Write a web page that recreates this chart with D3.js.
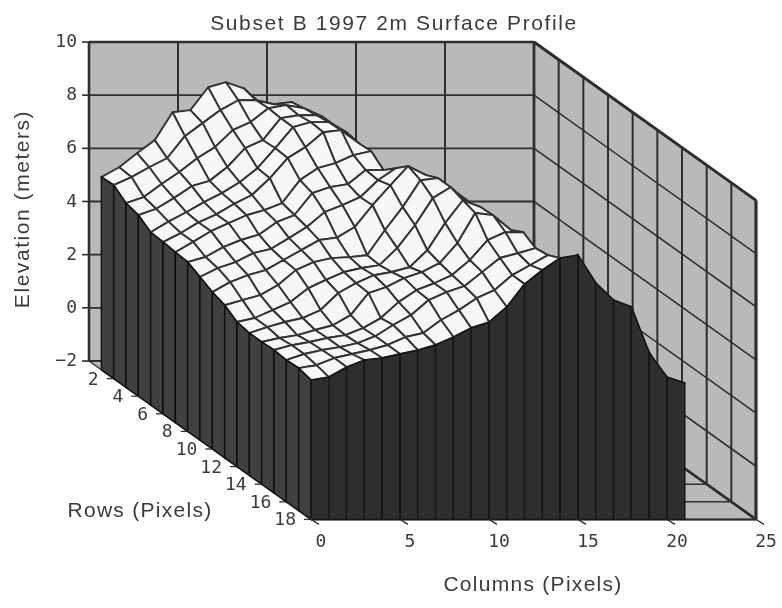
<!DOCTYPE html>
<html>
<head>
<meta charset="utf-8">
<script src="https://cdn.jsdelivr.net/npm/d3@7/dist/d3.min.js"></script>
<style>
  body { margin: 0; background: #fff; }
  text { fill: #3a3a3a; }
  .lbl { font-family: "Liberation Sans", Arial, sans-serif; font-size: 21px; }
  .tick { font-family: "DejaVu Sans Mono", monospace; font-size: 18px; }
</style>
</head>
<body>
<div id="chart"></div>
<script>
let rowLabels = [2, 4, 6, 8, 10, 12, 14, 16, 18]
let colLabels = [0, 5, 10, 15, 20, 25]
let zLabels = [10, 8, 6, 4, 2, 0, -2]

// elevation in meters, one list per row, columns 0..21
let row1 = [5.25,5.62,6.15,6.64,7.69,7.77,8.63,8.82,8.59,7.99,7.95,7.69,7.0,6.64,6.07,5.0,5.0,5.0,5.0,4.8,4.5,3.9]
let row2 = [5.28,5.58,5.95,6.29,7.12,7.61,8.1,8.47,8.47,8.32,8.4,7.98,7.16,6.6,6.03,5.2,5.1,5.1,5.0,4.8,4.4,4.0]
let row3 = [4.93,5.16,5.65,6.1,6.62,7.04,7.68,7.98,8.5,8.62,8.5,8.2,7.2,6.55,5.98,5.4,5.2,5.1,5.0,4.8,4.4,4.0]
let row4 = [4.81,5.05,5.45,5.9,6.1,6.62,7.33,7.63,8.46,8.57,8.57,8.2,7.25,6.5,5.94,5.5,5.3,5.2,5.0,4.8,4.4,4.0]
let row5 = [4.5,4.9,5.25,5.63,5.97,6.38,6.91,7.66,8.45,8.64,8.64,8.26,7.2,6.27,5.9,5.5,5.3,5.2,5.0,4.8,4.4,4.0]
let row6 = [4.46,4.8,5.2,5.5,5.9,6.23,6.86,7.62,8.03,8.59,8.67,8.18,6.97,6.4,5.85,5.5,5.3,5.2,5.0,4.8,4.4,4.0]
let row7 = [4.41,4.8,5.2,5.5,5.8,5.99,6.26,7.12,7.57,7.76,8.06,8.21,7.1,6.74,6.18,5.6,5.3,5.2,5.0,4.8,4.4,4.0]
let row8 = [4.37,4.56,4.93,5.2,5.4,5.87,6.14,6.96,7.19,7.3,7.83,7.83,7.53,7.07,6.5,5.7,5.4,5.2,5.0,4.8,4.4,4.1]
let row9 = [4.14,4.47,4.7,5.04,5.2,5.6,6.02,6.58,6.84,7.14,7.78,8.23,7.97,7.41,6.84,5.8,5.5,5.3,5.1,4.9,4.5,4.2]
let row10 = [3.9,4.28,4.54,4.73,5.11,5.48,5.86,5.95,6.35,7.17,7.92,8.64,8.3,7.74,7.17,5.9,5.6,5.3,5.1,4.9,4.5,4.3]
let row11 = [3.74,3.93,4.12,4.5,5.06,5.36,5.51,5.55,5.62,6.56,7.43,8.44,8.52,7.99,7.5,6.0,5.6,5.3,5.1,4.9,4.5,4.3]
let row12 = [3.44,3.59,3.89,4.19,4.71,5.02,5.32,5.47,5.58,6.22,7.08,8.1,8.51,7.91,7.46,6.2,5.7,5.4,5.1,4.9,4.5,4.3]
let row13 = [3.35,3.58,3.77,3.92,4.22,4.86,5.23,5.53,5.65,5.83,6.47,7.49,8.35,8.09,7.53,6.3,5.8,5.4,5.1,4.9,4.5,4.2]
let row14 = [3.35,3.5,3.61,3.8,3.98,4.36,5.19,5.41,5.75,5.98,6.32,7.07,8.2,8.12,7.56,6.4,5.8,5.4,5.1,4.8,4.4,4.0]
let row15 = [3.38,3.56,3.68,3.83,3.94,4.2,4.58,5.18,5.63,5.89,6.2,6.76,7.51,7.81,7.81,6.6,6.0,5.5,5.0,4.5,4.0,3.4]
let row16 = [3.33,3.56,3.71,3.82,3.97,4.23,4.65,5.02,5.59,5.89,6.11,6.64,7.17,7.35,7.54,6.8,6.2,5.6,5.0,4.4,3.6,2.9]
let row17 = [3.36,3.47,3.74,3.89,4.04,4.23,4.53,4.68,5.17,5.54,5.99,6.29,6.86,7.23,7.61,7.3,6.4,5.9,5.6,4.2,3.2,2.8]
let row18 = [3.24,3.35,3.73,3.99,4.07,4.22,4.37,4.56,4.86,5.2,5.42,5.99,6.85,7.38,7.83,7.94,6.89,6.25,5.99,4.26,3.35,3.13]
let surface = [row1,row2,row3,row4,row5,row6,row7,row8,row9,row10,row11,row12,row13,row14,row15,row16,row17,row18]

let width = 782, height = 608

// oblique projection: column and row move along the floor, z lifts straight up
let colX = d3.scaleLinear().domain([0, 25]).range([0, 445])
let rowX = d3.scaleLinear().domain([0, 18]).range([89, 311])
let rowY = d3.scaleLinear().domain([0, 18]).range([361, 519.4])
let zY = d3.scaleLinear().domain([-2, 10]).range([0, -319])

let px = (c, r) => colX(c) + rowX(r)
let py = (r, z) => rowY(r) + zY(z)
let pt = (c, r, z) => [px(c, r), py(r, z)]
let line = d3.line()

let svg = d3.select('#chart').append('svg')
  .attr('width', width)
  .attr('height', height)
  .style('display', 'block')

svg.append('defs').append('filter')
  .attr('id', 'soft')
  .append('feGaussianBlur')
  .attr('stdDeviation', 0.55)

let g = svg.append('g').attr('filter', 'url(#soft)')

let wallFill = '#b9b9b9'
let gridCol = '#2e2e2e'

// back wall
g.append('path')
  .attr('d', line([pt(0, 0, -2), pt(25, 0, -2), pt(25, 0, 10), pt(0, 0, 10)]) + 'Z')
  .attr('fill', wallFill)

// right wall
g.append('path')
  .attr('d', line([pt(25, 0, -2), pt(25, 18, -2), pt(25, 18, 10), pt(25, 0, 10)]) + 'Z')
  .attr('fill', wallFill)

// floor
g.append('path')
  .attr('d', line([pt(0, 0, -2), pt(25, 0, -2), pt(25, 18, -2), pt(0, 18, -2)]) + 'Z')
  .attr('fill', wallFill)

let gridLine = (a, b, w) => g.append('path')
  .attr('d', line([a, b]))
  .attr('stroke', gridCol)
  .attr('stroke-width', w)
  .attr('fill', 'none')

colLabels.forEach(c => {
  gridLine(pt(c, 0, -2), pt(c, 0, 10), 2)
  gridLine(pt(c, 0, -2), pt(c, 18, -2), 1.4)
})
zLabels.forEach(z => {
  gridLine(pt(0, 0, z), pt(25, 0, z), 1.9)
  gridLine(pt(25, 0, z), pt(25, 18, z), 1.6)
})
d3.range(0, 19, 2).forEach(r => {
  gridLine(pt(25, r, -2), pt(25, r, 10), 2)
  gridLine(pt(0, r, -2), pt(25, r, -2), 1.5)
})

// outer edges of the box
gridLine(pt(0, 0, 10), pt(25, 0, 10), 2.4)
gridLine(pt(25, 0, 10), pt(25, 18, 10), 3)
gridLine(pt(25, 18, 10), pt(25, 18, -2), 3.2)
gridLine(pt(25, 18, -2), pt(0, 18, -2), 2)
gridLine(pt(25, 0, -2), pt(25, 18, -2), 2.6)
gridLine(pt(0, 0, 10), pt(0, 0, -2), 2.6)
gridLine(pt(25, 0, 10), pt(25, 0, -2), 2.8)

// surface cells, far corner first
let nRows = surface.length, nCols = row1.length
for (let i = 0; i < nRows - 1; i++) {
  for (let c = nCols - 2; c >= 0; c--) {
    let r = i + 1
    g.append('path')
      .attr('d', line([
        pt(c, r, surface[i][c]),
        pt(c, r, surface[i][c]),
        pt(c + 1, r, surface[i][c + 1]),
        pt(c + 1, r + 1, surface[i + 1][c + 1]),
        pt(c, r + 1, surface[i + 1][c])
      ]) + 'Z')
      .attr('fill', '#f7f7f7')
      .attr('stroke', '#333')
      .attr('stroke-width', 1.9)
      .attr('stroke-linejoin', 'round')
  }
}

// left skirt, one strip per row
for (let i = 0; i < nRows - 1; i++) {
  let r = i + 1
  g.append('path')
    .attr('d', line([
      pt(0, r, surface[i][0]),
      pt(0, r + 1, surface[i + 1][0]),
      pt(0, r + 1, -2),
      pt(0, r, -2)
    ]) + 'Z')
    .attr('fill', '#404040')
    .attr('stroke', '#0e0e0e')
    .attr('stroke-width', 1.4)
}

// front skirt, one strip per column
for (let c = 0; c < nCols - 1; c++) {
  g.append('path')
    .attr('d', line([
      pt(c, 18, row18[c]),
      pt(c + 1, 18, row18[c + 1]),
      pt(c + 1, 18, -2),
      pt(c, 18, -2)
    ]) + 'Z')
    .attr('fill', '#2e2e2e')
    .attr('stroke', '#121212')
    .attr('stroke-width', 1.4)
}

// z axis
zLabels.forEach(z => {
  gridLine([82, py(0, z)], [89, py(0, z)], 1.6)
  g.append('text')
    .attr('class', 'tick')
    .attr('x', 77)
    .attr('y', py(0, z) + 5)
    .attr('text-anchor', 'end')
    .text(z < 0 ? '\u2212' + Math.abs(z) : z)
})

// row axis
rowLabels.forEach(r => {
  gridLine([px(0, r) - 7, py(r, -2)], [px(0, r), py(r, -2)], 1.3)
  g.append('text')
    .attr('class', 'tick')
    .attr('x', px(0, r) - 15)
    .attr('y', py(r, -2) + 6)
    .attr('text-anchor', 'end')
    .text(r)
})

// column axis
colLabels.forEach(c => {
  gridLine([px(c, 18), py(18, -2)], [px(c, 18) + 8, py(18, -2) + 5], 1.3)
  g.append('text')
    .attr('class', 'tick')
    .attr('x', px(c, 18) + 10)
    .attr('y', py(18, -2) + 28)
    .attr('text-anchor', 'middle')
    .text(c)
})

g.append('text').attr('class', 'lbl')
  .attr('x', 394).attr('y', 30)
  .attr('text-anchor', 'middle')
  .style('letter-spacing', '1.6px')
  .text('Subset B 1997 2m Surface Profile')

g.append('text').attr('class', 'lbl')
  .attr('x', 140).attr('y', 517)
  .attr('text-anchor', 'middle')
  .style('letter-spacing', '1.28px')
  .text('Rows (Pixels)')

g.append('text').attr('class', 'lbl')
  .attr('x', 533).attr('y', 591)
  .attr('text-anchor', 'middle')
  .style('letter-spacing', '1.28px')
  .text('Columns (Pixels)')

g.append('text').attr('class', 'lbl')
  .attr('transform', 'translate(29,209) rotate(-90)')
  .attr('text-anchor', 'middle')
  .style('letter-spacing', '1.55px')
  .text('Elevation (meters)')
</script>
</body>
</html>
